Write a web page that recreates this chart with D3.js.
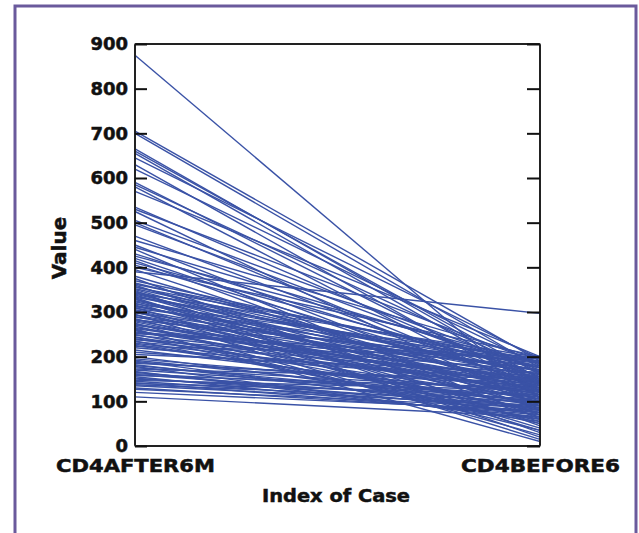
<!DOCTYPE html>
<html>
<head>
<meta charset="utf-8">
<script src="https://cdn.jsdelivr.net/npm/d3@7"></script>
<style>
  body { margin: 0; background: #fff; }
  svg text { font-family: "DejaVu Sans", sans-serif; font-weight: bold; fill: #111; stroke: #111; stroke-width: 0.5px; }
</style>
</head>
<body>
<script>
var width = 639,
    height = 533;

// variables on the x axis
var categories = ["CD4AFTER6M", "CD4BEFORE6"];

// one case per index: value after 6 months, value before
var after6m = [875, 705, 700, 665, 660, 655, 645, 630, 620, 590, 585, 580, 570, 535, 530, 525,
  505, 500, 495, 470, 460, 450, 445, 440, 430, 425, 420, 415, 410, 405, 400, 395, 390, 380,
  375, 370, 365, 360, 355, 350, 348, 345, 340, 338, 335, 330, 328, 325, 320, 318, 315, 310,
  305, 300, 298, 295, 290, 288, 285, 280, 278, 275, 270, 268, 265, 260, 258, 255, 250, 248,
  245, 240, 238, 235, 230, 225, 220, 200, 195, 190, 185, 180, 178, 175, 170, 165, 160, 158,
  155, 150, 145, 140, 135, 130, 120, 110,
  362, 357, 352, 343, 333, 323, 313, 308, 303, 293, 283, 273, 263, 253, 243, 233, 228, 223,
  215, 210, 205, 192, 187, 182, 172, 167, 162, 152, 147, 142, 137, 127, 342, 332, 312, 302,
  282, 272, 262, 252];
var before6 = [105, 190, 175, 150, 160, 140, 195, 120, 180, 135, 165, 110, 200, 145, 185, 90,
  170, 125, 155, 130, 195, 100, 175, 60, 150, 185, 115, 80, 165, 140, 200, 95, 297, 120,
  45, 175, 150, 70, 190, 105, 30, 160, 135, 85, 180, 20, 110, 155, 65, 195, 125, 40,
  145, 90, 170, 15, 115, 185, 55, 130, 100, 25, 160, 75, 140, 35, 120, 190, 80, 150,
  50, 105, 170, 60, 130, 95, 145, 85, 120, 70, 140, 100, 55, 125, 110, 75, 95, 130,
  65, 105, 85, 115, 90, 75, 80, 65,
  185, 130, 160, 95, 175, 120, 150, 190, 105, 140, 170, 115, 135, 180, 125, 155, 90, 200,
  110, 145, 165, 100, 135, 80, 150, 60, 115, 90, 125, 70, 100, 85, 198, 50, 170, 35,
  188, 145, 10, 195];

var yTicks = [0, 100, 200, 300, 400, 500, 600, 700, 800, 900];

var plotLeft = 135, plotRight = 540, plotTop = 44, plotBottom = 446;

var svg = d3.select("body").append("svg")
    .attr("width", width)
    .attr("height", height);

// purple outer frame (bottom edge is off the picture)
svg.append("rect")
    .attr("x", 15).attr("y", 6)
    .attr("width", 621).attr("height", 560)
    .style("fill", "none")
    .style("stroke", "#6a5a9c")
    .style("stroke-width", 3);

var x = d3.scalePoint().domain(categories).range([plotLeft, plotRight]);
var y = d3.scaleLinear().domain([0, 900]).range([plotBottom, plotTop]);

var cases = after6m.map(function(v, i) {
    return [{k: categories[0], v: v}, {k: categories[1], v: before6[i]}];
});

var line = d3.line()
    .x(function(d) { return x(d.k); })
    .y(function(d) { return y(d.v); });

svg.append("g").selectAll("path")
    .data(cases)
    .enter().append("path")
      .attr("d", line)
      .style("fill", "none")
      .style("stroke", "#3a52a6")
      .style("stroke-width", 1.4);

// plot frame
svg.append("rect")
    .attr("x", plotLeft).attr("y", plotTop)
    .attr("width", plotRight - plotLeft).attr("height", plotBottom - plotTop)
    .attr("rx", 1)
    .style("fill", "none")
    .style("stroke", "#222")
    .style("stroke-width", 2);

var yAxis = svg.append("g")
    .attr("transform", "translate(" + plotLeft + ",0)")
    .call(d3.axisLeft(y).tickValues(yTicks).tickSizeInner(-12).tickSizeOuter(0).tickPadding(7));
yAxis.select(".domain").remove();
yAxis.selectAll("line").style("stroke", "#111").style("stroke-width", 2);
yAxis.selectAll("text").style("font-size", "18px").style("font-family", null).style("fill", "#111");

var yAxisR = svg.append("g")
    .attr("transform", "translate(" + plotRight + ",0)")
    .call(d3.axisRight(y).tickValues(yTicks).tickSizeInner(-13).tickSizeOuter(0).tickFormat(""));
yAxisR.select(".domain").remove();
yAxisR.selectAll("line").style("stroke", "#111").style("stroke-width", 2);

var xAxis = svg.append("g")
    .attr("transform", "translate(0," + plotBottom + ")")
    .call(d3.axisBottom(x).tickSize(0).tickPadding(13));
xAxis.select(".domain").remove();
xAxis.selectAll("text")
    .style("font-size", "18px").style("font-family", null).style("fill", "#111")
    .attr("textLength", 159)
    .attr("lengthAdjust", "spacingAndGlyphs");

svg.append("text")
    .attr("transform", "translate(66,248) rotate(-90)")
    .attr("text-anchor", "middle")
    .style("font-size", "20px")
    .text("Value");

svg.append("text")
    .attr("x", 336).attr("y", 502)
    .attr("text-anchor", "middle")
    .attr("textLength", 148)
    .attr("lengthAdjust", "spacingAndGlyphs")
    .style("font-size", "18px")
    .text("Index of Case");
</script>
</body>
</html>
